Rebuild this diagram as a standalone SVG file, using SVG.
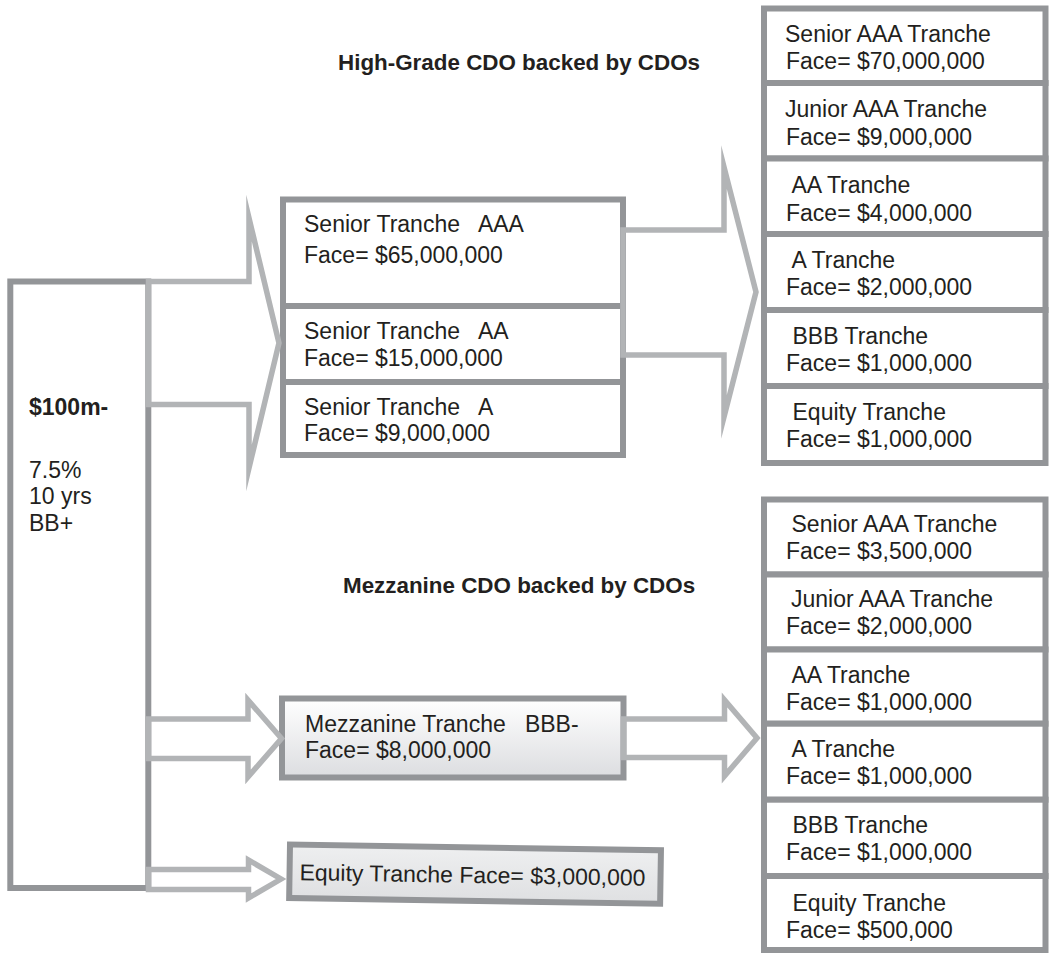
<svg xmlns="http://www.w3.org/2000/svg" width="1053" height="954" viewBox="0 0 1053 954">
<style>
.box{fill:#ffffff;stroke:#939598;stroke-width:6}
.arrow{fill:none;stroke:#b2b4b6;stroke-width:5.5;stroke-linejoin:miter;stroke-miterlimit:20}
.t{font-family:"Liberation Sans",Arial,sans-serif;font-size:23px;fill:#231f20}
.b{font-family:"Liberation Sans",Arial,sans-serif;font-size:23px;font-weight:bold;fill:#231f20}
.title{font-family:"Liberation Sans",Arial,sans-serif;font-size:22.4px;font-weight:bold;fill:#231f20}
</style>
<defs>
<linearGradient id="mezzFill" x1="0" y1="0" x2="0" y2="1">
<stop offset="0" stop-color="#ffffff"/>
<stop offset="1" stop-color="#dcdde0"/>
</linearGradient>
<linearGradient id="eqFill" x1="0" y1="0" x2="0" y2="1">
<stop offset="0" stop-color="#eeeff0"/>
<stop offset="1" stop-color="#dfe0e2"/>
</linearGradient>
</defs>
<rect width="1053" height="954" fill="#ffffff"/>

<g id="titles">
<text class="title" x="338" y="70">High-Grade CDO backed by CDOs</text>
<text class="title" x="343" y="593">Mezzanine CDO backed by CDOs</text>
</g>

<g id="collateral">
<rect class="box" x="10.3" y="281.5" width="138" height="606.5"/>
<text class="b" x="29" y="415">$100m-</text>
<text class="t" x="29" y="477.5">7.5%</text>
<text class="t" x="29" y="504">10 yrs</text>
<text class="t" x="29" y="530.5">BB+</text>
</g>

<g id="senior-tranches">
<rect class="box" x="283" y="199.5" width="340" height="106.5"/>
<rect class="box" x="283" y="306" width="340" height="76"/>
<rect class="box" x="283" y="382" width="340" height="73"/>
<text class="t" x="304" y="231.7" xml:space="preserve">Senior Tranche   AAA</text>
<text class="t" x="304" y="263.3">Face= $65,000,000</text>
<text class="t" x="304" y="339" xml:space="preserve">Senior Tranche   AA</text>
<text class="t" x="304" y="365.5">Face= $15,000,000</text>
<text class="t" x="304" y="414.5" xml:space="preserve">Senior Tranche   A</text>
<text class="t" x="304" y="441">Face= $9,000,000</text>
</g>

<g id="mezzanine-tranche">
<rect class="box" x="282" y="698.5" width="341.5" height="79" style="fill:url(#mezzFill)"/>
<text class="t" x="305" y="731.5" xml:space="preserve">Mezzanine Tranche   BBB-</text>
<text class="t" x="305" y="758">Face= $8,000,000</text>
</g>

<g id="equity-tranche" transform="rotate(0.9 290 844.5)">
<rect class="box" x="290" y="844.5" width="371" height="53.5" style="fill:url(#eqFill)"/>
<text class="t" x="300" y="880">Equity Tranche Face= $3,000,000</text>
</g>

<g id="high-grade-cdo">
<rect class="box" x="764" y="8.5" width="281.5" height="74.5"/>
<rect class="box" x="764" y="83" width="281.5" height="75.5"/>
<rect class="box" x="764" y="158.5" width="281.5" height="75.5"/>
<rect class="box" x="764" y="234" width="281.5" height="76"/>
<rect class="box" x="764" y="310" width="281.5" height="76"/>
<rect class="box" x="764" y="386" width="281.5" height="77"/>
<text class="t" x="785" y="41.7">Senior AAA Tranche</text>
<text class="t" x="786" y="68.5">Face= $70,000,000</text>
<text class="t" x="785" y="116.7">Junior AAA Tranche</text>
<text class="t" x="786" y="145">Face= $9,000,000</text>
<text class="t" x="791.5" y="192.7">AA Tranche</text>
<text class="t" x="786" y="220.7">Face= $4,000,000</text>
<text class="t" x="791.5" y="268.3">A Tranche</text>
<text class="t" x="786" y="295">Face= $2,000,000</text>
<text class="t" x="792.5" y="344">BBB Tranche</text>
<text class="t" x="786" y="370.7">Face= $1,000,000</text>
<text class="t" x="792.5" y="420">Equity Tranche</text>
<text class="t" x="786" y="446.7">Face= $1,000,000</text>
</g>

<g id="mezzanine-cdo">
<rect class="box" x="764" y="499.5" width="281.5" height="75"/>
<rect class="box" x="764" y="574.5" width="281.5" height="75"/>
<rect class="box" x="764" y="649.5" width="281.5" height="74.2"/>
<rect class="box" x="764" y="723.7" width="281.5" height="76"/>
<rect class="box" x="764" y="799.7" width="281.5" height="76.3"/>
<rect class="box" x="764" y="876" width="281.5" height="74"/>
<text class="t" x="791.5" y="531.7">Senior AAA Tranche</text>
<text class="t" x="786" y="559.3">Face= $3,500,000</text>
<text class="t" x="791" y="607.2">Junior AAA Tranche</text>
<text class="t" x="786" y="634">Face= $2,000,000</text>
<text class="t" x="791.5" y="682.7">AA Tranche</text>
<text class="t" x="786" y="710">Face= $1,000,000</text>
<text class="t" x="791.5" y="756.7">A Tranche</text>
<text class="t" x="786" y="784">Face= $1,000,000</text>
<text class="t" x="792.5" y="832.7">BBB Tranche</text>
<text class="t" x="786" y="860">Face= $1,000,000</text>
<text class="t" x="792.5" y="911">Equity Tranche</text>
<text class="t" x="786" y="937.8">Face= $500,000</text>
</g>

<g id="connectors">
<polygon class="arrow" points="148.5,281.5 249,281.5 249,218 279,343 249,468 249,404.5 148.5,404.5"/>
<polygon class="arrow" points="623,230 724,230 724,167 756,292 724,417 724,355 623,355"/>
<polygon class="arrow" points="148.5,719 248,719 248,700 281.5,738.5 248,777 248,758.5 148.5,758.5"/>
<polygon class="arrow" points="623.5,719 724.5,719 724.5,700 757,738 724.5,776 724.5,757.5 623.5,757.5"/>
<polygon class="arrow" points="148.5,869.5 248.5,869.5 248.5,860 281,879 248.5,898 248.5,889.5 148.5,889.5"/>
</g>
</svg>
